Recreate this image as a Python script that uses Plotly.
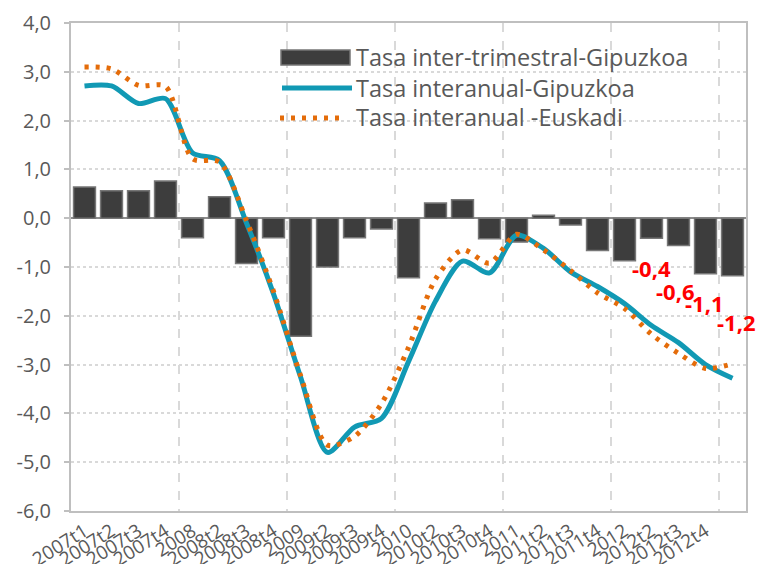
import plotly.graph_objects as go

# ---------------- data ----------------
quarter_labels = ["2007t1", "2007t2", "2007t3", "2007t4",
                  "2008", "2008t2", "2008t3", "2008t4",
                  "2009", "2009t2", "2009t3", "2009t4",
                  "2010", "2010t2", "2010t3", "2010t4",
                  "2011", "2011t2", "2011t3", "2011t4",
                  "2012", "2012t2", "2012t3", "2012t4"]

# 25 periods plotted (the last one has no axis label in the original)
inter_trimestral_gipuzkoa = [0.64, 0.56, 0.56, 0.76, -0.40, 0.44, -0.93, -0.40,
                             -2.42, -1.00, -0.40, -0.22, -1.22, 0.31, 0.38, -0.42,
                             -0.49, 0.06, -0.14, -0.66, -0.87, -0.41, -0.56, -1.14,
                             -1.18]
interanual_gipuzkoa = [2.71, 2.71, 2.35, 2.45, 1.34, 1.18, -0.10, -1.55,
                       -3.25, -4.80, -4.28, -4.10, -2.94, -1.70, -0.88, -1.12,
                       -0.35, -0.62, -1.10, -1.40, -1.75, -2.20, -2.55, -3.00,
                       -3.28]
interanual_euskadi = [3.10, 3.06, 2.72, 2.70, 1.22, 1.15, -0.05, -1.50,
                      -3.22, -4.65, -4.47, -3.80, -2.65, -1.25, -0.65, -0.92,
                      -0.33, -0.65, -1.07, -1.53, -1.85, -2.38, -2.77, -3.08,
                      -2.98]
labelled_bars = [21, 22, 23, 24]
y_ticks = [-6, -5, -4, -3, -2, -1, 0, 1, 2, 3, 4]

names = ["Tasa inter-trimestral-Gipuzkoa", "Tasa interanual-Gipuzkoa",
         "Tasa interanual -Euskadi"]

# ---------------- styles ----------------
FONT = "Open Sans"
GREY_TXT = "#595959"
TEAL = "#1199B4"
ORANGE = "#E46C0A"
BAR = "#3D3D3D"


def fmt(v):
    return f"{v:.1f}".replace(".", ",")


x_idx = list(range(len(inter_trimestral_gipuzkoa)))

fig = go.Figure()
fig.add_trace(go.Bar(x=x_idx, y=inter_trimestral_gipuzkoa, name=names[0],
                     marker=dict(color=BAR, line=dict(color="#767676", width=1.5)),
                     showlegend=False))
fig.add_trace(go.Scatter(x=x_idx, y=interanual_gipuzkoa, name=names[1], mode="lines",
                         line=dict(color=TEAL, width=5, shape="spline", smoothing=0.8),
                         showlegend=False))
fig.add_trace(go.Scatter(x=x_idx, y=interanual_euskadi, name=names[2], mode="lines",
                         line=dict(color=ORANGE, width=5, dash="4px,7px",
                                   shape="spline", smoothing=0.8),
                         showlegend=False))

# plot area in pixels
L, R, T, B = 71, 746, 23, 511
W, H = 760, 564


def px(xp):
    return (xp - L) / (R - L)


def py(yp):
    return (B - yp) / (B - T)


shapes = []
annotations = []

# manual legend
shapes.append(dict(type="rect", xref="paper", yref="paper", layer="between",
                   x0=px(274), x1=px(706), y0=py(134), y1=py(40),
                   fillcolor="white", line=dict(width=0)))
shapes.append(dict(type="rect", xref="paper", yref="paper", layer="above",
                   x0=px(281), x1=px(350), y0=py(65), y1=py(50),
                   fillcolor=BAR, line=dict(color="#767676", width=1.5)))
shapes.append(dict(type="line", xref="paper", yref="paper", layer="above",
                   x0=px(282), x1=px(352), y0=py(88), y1=py(88),
                   line=dict(color=TEAL, width=5)))
shapes.append(dict(type="line", xref="paper", yref="paper", layer="above",
                   x0=px(280), x1=px(346), y0=py(118), y1=py(118),
                   line=dict(color=ORANGE, width=5, dash="4px,7px")))
for name, yc in zip(names, [57, 88, 117]):
    annotations.append(dict(xref="paper", yref="paper", x=px(354), y=py(yc),
                            xanchor="left", yanchor="middle", showarrow=False,
                            text=name, font=dict(family=FONT, size=23.5, color=GREY_TXT)))

# red data labels for the last bars
label_offsets = {21: (0.0, -1.03), 22: (-0.1, -1.5), 23: (-0.05, -1.74), 24: (0.15, -2.13)}
for i in labelled_bars:
    dx, yy = label_offsets[i]
    annotations.append(dict(x=i + dx, y=yy, xref="x", yref="y", showarrow=False,
                            text=f"<b>{fmt(inter_trimestral_gipuzkoa[i])}</b>",
                            font=dict(family=FONT, size=22, color="#FF0000")))

fig.update_layout(
    width=W, height=H,
    margin=dict(l=L, r=W - R, t=T, b=H - B, pad=0, autoexpand=False),
    paper_bgcolor="white", plot_bgcolor="white",
    separators=", ",
    bargap=0.19,
    showlegend=False,
    font=dict(family=FONT, color=GREY_TXT, size=19),
    shapes=shapes, annotations=annotations,
)
fig.update_yaxes(range=[-6, 4], tickmode="array", tickvals=y_ticks,
                 ticktext=[fmt(v) for v in y_ticks], automargin=False,
                 showgrid=True, gridcolor="#D9D9D9", griddash="dot", gridwidth=1.5,
                 zeroline=True, zerolinecolor="#8C8C8C", zerolinewidth=2,
                 showline=True, linecolor="#BFBFBF", linewidth=2, mirror=True,
                 ticks="outside", ticklen=5, tickcolor="#BFBFBF", tickwidth=2,
                 ticklabelstandoff=9,
                 tickfont=dict(family=FONT, size=20, color=GREY_TXT))
fig.update_xaxes(range=[-0.5, len(x_idx) - 0.5], automargin=False,
                 tickmode="array", tickvals=list(range(len(quarter_labels))),
                 ticktext=quarter_labels, tickangle=-32,
                 showgrid=False, zeroline=False,
                 showline=True, linecolor="#BFBFBF", linewidth=2, mirror=True,
                 ticks="",
                 minor=dict(tickmode="array",
                            tickvals=[k - 0.5 for k in range(4, len(x_idx), 4)],
                            showgrid=True, gridcolor="#D9D9D9", griddash="dash",
                            gridwidth=1.5, ticks=""),
                 tickfont=dict(family=FONT, size=19, color=GREY_TXT))

fig.write_html("out.html",
               config={"displayModeBar": False},
               post_script="document.body.style.margin='0px';"
                           "document.body.style.padding='0px';"
                           "document.body.style.overflow='hidden';")
